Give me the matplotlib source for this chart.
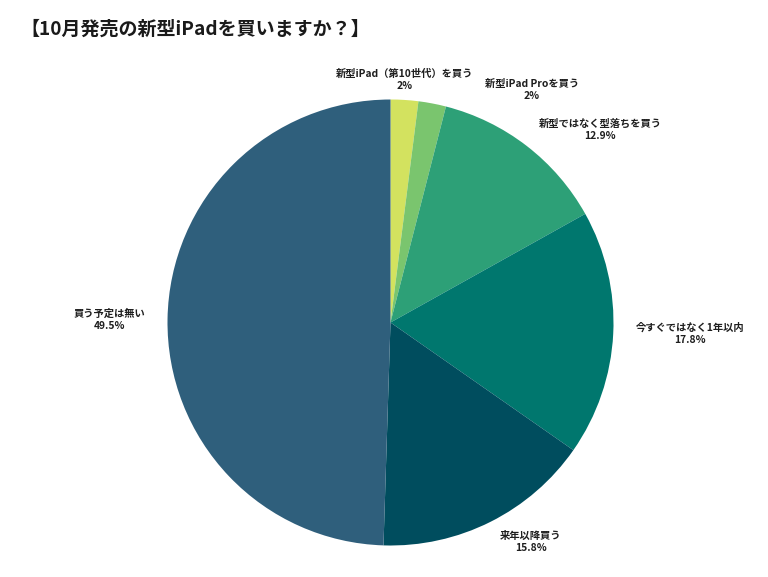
import matplotlib
matplotlib.use("Agg")
import matplotlib.pyplot as plt

plt.rcParams['font.family'] = ['Noto Sans CJK JP', 'DejaVu Sans']

# データ
labels = ['新型iPad（第10世代）を買う', '新型iPad Proを買う', '新型ではなく型落ちを買う',
          '今すぐではなく1年以内', '来年以降買う', '買う予定は無い']
values = [2, 2, 12.9, 17.8, 15.8, 49.5]
pct_text = ['2%', '2%', '12.9%', '17.8%', '15.8%', '49.5%']
colors = ['#d3e25f', '#7ac56e', '#2da077', '#00776e', '#004d5e', '#2f5f7c']

# ラベル位置 (半径1の座標)
label_pos = [(0.065, 1.088), (0.635, 1.042), (0.939, 0.863),
             (1.343, -0.052), (0.630, -0.984), (-1.258, 0.011)]

W, H = 768, 577
fig = plt.figure(figsize=(W / 100, H / 100), dpi=100)
cx, cy, r = 390.5, 322.5, 223
ax = fig.add_axes([(cx - r) / W, (H - cy - r) / H, 2 * r / W, 2 * r / H])

ax.pie(values, colors=colors, startangle=90, counterclock=False,
       wedgeprops=dict(linewidth=0))
ax.set_xlim(-1, 1)
ax.set_ylim(-1, 1)
ax.set_aspect('equal')
ax.axis('off')

for lab, p, (x, y) in zip(labels, pct_text, label_pos):
    ax.text(x, y, lab + '\n' + p, ha='center', va='center', fontsize=7.4,
            fontweight='bold', color='#1e1e1e', linespacing=1.25)

fig.text(20 / W, 1 - 29 / H, '【10月発売の新型iPadを買いますか？】', ha='left', va='center',
         fontsize=13.7, fontweight='bold', color='#1a1a1a')

fig.savefig('out.png', dpi=100, facecolor='white')
